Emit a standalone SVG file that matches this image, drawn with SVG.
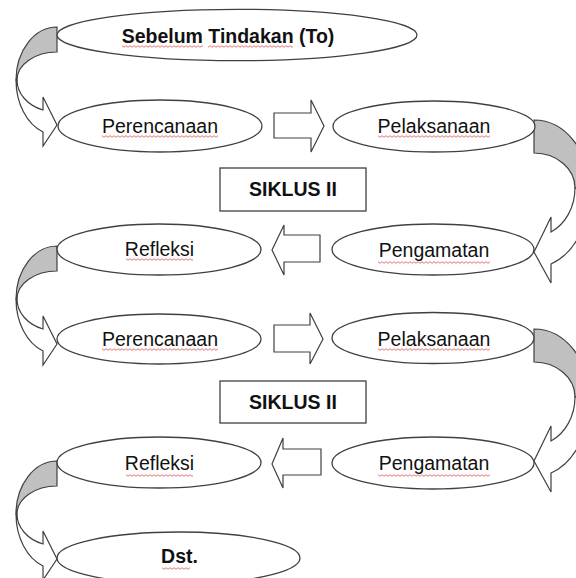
<svg xmlns="http://www.w3.org/2000/svg" width="576" height="578" viewBox="0 0 576 578">
<style>
.n{fill:#fff;stroke:#404040;stroke-width:1.3}
.c{fill:#fff;stroke:#404040;stroke-width:1.2;stroke-linejoin:miter}
.g{fill:#c0c0c0;stroke:#404040;stroke-width:1.2}
.t{font-family:"Liberation Sans",Arial,sans-serif;font-size:19.5px;fill:#111;text-anchor:middle}
.b{font-weight:bold}
.sq{fill:url(#squig)}
</style>
<defs>
<pattern id="squig" patternUnits="userSpaceOnUse" x="0" y="0" width="4" height="3">
<path d="M0,2.3 L2,0.7 L4,2.3" fill="none" stroke="#e05050" stroke-width="0.8"/>
</pattern>
<g id="curveL">
<path class="g" d="M57,27 A41,53 0 0 0 16,80 L17,80 A40,28 0 0 1 57,52 Z"/>
<path class="c" d="M16,80 A41,55.3 0 0 0 43,132 L43,146 L57,125 L43,97 L43,110 A40,32 0 0 1 17,80 Z"/>
</g>
<g id="curveR">
<path class="g" d="M534,120 A56,70 0 0 1 590,190 L575,188 A41,35 0 0 0 534,153 Z"/>
<path class="c" d="M575,188 A41,48.4 0 0 1 551,232 L551,217 L534,252 L551,283 L551,264 A56,78 0 0 0 590,190 Z"/>
</g>
</defs>

<g id="connectors">
<use href="#curveL"/>
<use href="#curveL" transform="translate(0,219)"/>
<use href="#curveL" transform="translate(0,434)"/>
<use href="#curveR"/>
<use href="#curveR" transform="translate(0,209)"/>
<polygon class="c" points="274,113 311,113 311,100 324,126 311,152 311,138 274,138"/>
<polygon class="c" points="320,235 284,235 284,225 272,250 284,275 284,262 320,262"/>
<polygon class="c" points="274,325 310,325 310,313 323,339 310,364 310,352 274,352"/>
<polygon class="c" points="321,449 283,449 283,438 272,464 283,488 283,475 321,475"/>
</g>

<g id="node-sebelum">
<ellipse class="n" cx="237" cy="35" rx="180" ry="25.7"/>
<text class="t b" x="228" y="42.5" font-size="19.3">Sebelum Tindakan (To)</text>
<rect class="sq" x="122" y="45" width="81" height="3"/>
<rect class="sq" x="208" y="45" width="85" height="3"/>
</g>

<g id="node-perencanaan1">
<ellipse class="n" cx="160" cy="126" rx="102" ry="26"/>
<text class="t" x="160" y="133">Perencanaan</text>
<rect class="sq" x="102" y="135" width="116" height="3"/>
</g>

<g id="node-pelaksanaan1">
<ellipse class="n" cx="434" cy="126.5" rx="101" ry="25.5"/>
<text class="t" x="434" y="133">Pelaksanaan</text>
<rect class="sq" x="378" y="135" width="112" height="3"/>
</g>

<g id="node-siklus1">
<rect class="n" x="220" y="168" width="146" height="43"/>
<text class="t b" x="293" y="196" font-size="17.5">SIKLUS II</text>
</g>

<g id="node-refleksi1">
<ellipse class="n" cx="159" cy="249.5" rx="102" ry="25.5"/>
<text class="t" x="159.5" y="256">Refleksi</text>
<rect class="sq" x="126" y="258" width="67" height="3"/>
</g>

<g id="node-pengamatan1">
<ellipse class="n" cx="433" cy="249.5" rx="101" ry="25.5"/>
<text class="t" x="434" y="256.5">Pengamatan</text>
<rect class="sq" x="378" y="261" width="112" height="3"/>
</g>

<g id="node-perencanaan2">
<ellipse class="n" cx="159" cy="339" rx="102" ry="25"/>
<text class="t" x="160" y="346">Perencanaan</text>
<rect class="sq" x="102" y="348" width="116" height="3"/>
</g>

<g id="node-pelaksanaan2">
<ellipse class="n" cx="433" cy="338" rx="101" ry="25.5"/>
<text class="t" x="434" y="345.5">Pelaksanaan</text>
<rect class="sq" x="378" y="348" width="112" height="3"/>
</g>

<g id="node-siklus2">
<rect class="n" x="220" y="381" width="146" height="42"/>
<text class="t b" x="293" y="409" font-size="17.5">SIKLUS II</text>
</g>

<g id="node-refleksi2">
<ellipse class="n" cx="159" cy="462.5" rx="102" ry="25.5"/>
<text class="t" x="159.5" y="469.5">Refleksi</text>
<rect class="sq" x="126" y="474" width="67" height="3"/>
</g>

<g id="node-pengamatan2">
<ellipse class="n" cx="433" cy="463" rx="101" ry="26"/>
<text class="t" x="434" y="470">Pengamatan</text>
<rect class="sq" x="378" y="474" width="112" height="3"/>
</g>

<g id="node-dst">
<ellipse class="n" cx="178.5" cy="558" rx="121.5" ry="26"/>
<text class="t b" x="179.5" y="563" font-size="18.5">Dst.</text>
<rect class="sq" x="162" y="567" width="28" height="3"/>
</g>
</svg>
